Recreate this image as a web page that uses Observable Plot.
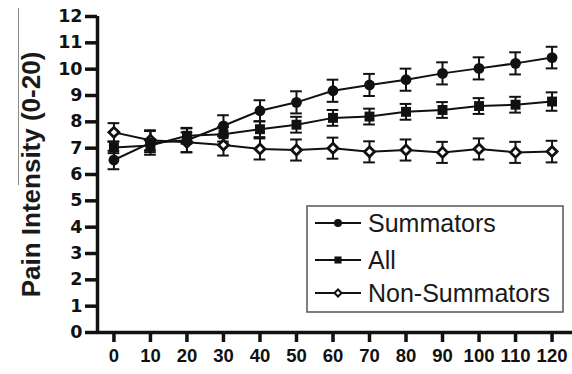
<!DOCTYPE html>
<html>
<head>
<meta charset="utf-8">
<script src="https://cdn.jsdelivr.net/npm/d3@7"></script>
<script src="https://cdn.jsdelivr.net/npm/@observablehq/plot@0.6"></script>
<style>
  html, body { margin: 0; padding: 0; background: #fff; }
  #wrap { position: relative; width: 572px; height: 374px; overflow: hidden; }
  #edge { position: absolute; left: 18px; top: 8px; width: 0; height: 177px; border-left: 1.5px solid #8a8a8a; }
  #legend { position: absolute; left: 306px; top: 205px; }
</style>
</head>
<body>
<div id="wrap"><div id="edge"></div><div id="legend"></div></div>
<script>
// Data
const minutes = [0, 10, 20, 30, 40, 50, 60, 70, 80, 90, 100, 110, 120];
const summators    = [6.55, 7.20, 7.30, 7.85, 8.42, 8.74, 9.18, 9.40, 9.60, 9.84, 10.03, 10.22, 10.44];
const summatorsErr = [0.35, 0.45, 0.45, 0.40, 0.40, 0.42, 0.42, 0.42, 0.42, 0.42, 0.42, 0.42, 0.41];
const allPts       = [7.03, 7.10, 7.47, 7.53, 7.72, 7.89, 8.15, 8.20, 8.38, 8.45, 8.60, 8.65, 8.77];
const allErr       = [0.22, 0.25, 0.30, 0.28, 0.30, 0.30, 0.30, 0.30, 0.30, 0.30, 0.30, 0.30, 0.35];
const nonSumm      = [7.60, 7.30, 7.22, 7.12, 6.97, 6.93, 7.00, 6.86, 6.93, 6.84, 6.97, 6.84, 6.87];
const nonSummErr   = [0.35, 0.38, 0.38, 0.40, 0.40, 0.40, 0.40, 0.40, 0.40, 0.40, 0.40, 0.40, 0.41];
const yTicks = [0, 1, 2, 3, 4, 5, 6, 7, 8, 9, 10, 11, 12];
const seriesNames = ["Summators", "All", "Non-Summators"];
const yLabel = "Pain Intensity (0-20)";

const xMin = -4.5, xMax = 125.6;
const capHalf = 1.6;

function rows(vals, errs, name) {
  return minutes.map((m, i) => ({m, v: vals[i], lo: vals[i] - errs[i], hi: vals[i] + errs[i], name}));
}
const S = rows(summators, summatorsErr, seriesNames[0]);
const A = rows(allPts, allErr, seriesNames[1]);
const N = rows(nonSumm, nonSummErr, seriesNames[2]);
const allRows = [...S, ...A, ...N];

const font = "'Liberation Sans', Arial, Helvetica, sans-serif";
const wideFont = "'DejaVu Sans', 'Liberation Sans', Arial, sans-serif";

const chart = Plot.plot({
  width: 572, height: 374,
  marginLeft: 97, marginRight: 0, marginTop: 16, marginBottom: 42,
  style: {fontFamily: font, color: "#111", background: "#fff"},
  x: {domain: [xMin, xMax]},
  y: {domain: [0, 12]},
  marks: [
    Plot.axisY({ticks: yTicks, tickSize: 12, tickPadding: 3, strokeWidth: 3.5, fontSize: 17.5, fontWeight: "bold", fontFamily: wideFont, label: null, fill: "#111"}),
    Plot.axisX({ticks: minutes, tickSize: 10, tickPadding: 6, strokeWidth: 3.5, fontSize: 18.5, fontWeight: "bold", label: null, fill: "#111"}),
    Plot.ruleX([xMin], {y1: 0, y2: 12, strokeWidth: 3.5, stroke: "#111"}),
    Plot.ruleY([0], {x1: xMin, x2: xMax, strokeWidth: 3.5, stroke: "#111"}),
    Plot.text([yLabel], {frameAnchor: "left", textAnchor: "middle", rotate: -90, dx: -66, fontSize: 26, fontWeight: "bold", fill: "#1a1a1a", fontFamily: font}),
    // lines
    Plot.line(S, {x: "m", y: "v", stroke: "#111", strokeWidth: 2}),
    Plot.line(A, {x: "m", y: "v", stroke: "#111", strokeWidth: 2}),
    Plot.line(N, {x: "m", y: "v", stroke: "#111", strokeWidth: 2}),
    // error bars
    Plot.ruleX(allRows, {x: "m", y1: "lo", y2: "hi", stroke: "#111", strokeWidth: 2}),
    Plot.ruleY(allRows, {y: "hi", x1: d => d.m - capHalf, x2: d => d.m + capHalf, stroke: "#111", strokeWidth: 2}),
    Plot.ruleY(allRows, {y: "lo", x1: d => d.m - capHalf, x2: d => d.m + capHalf, stroke: "#111", strokeWidth: 2}),
    // markers
    Plot.dot(N, {x: "m", y: "v", symbol: "diamond2", r: 4.5, fill: "#fff", stroke: "#111", strokeWidth: 2.8}),
    Plot.dot(A, {x: "m", y: "v", symbol: "square", r: 5.6, fill: "#111", stroke: "none"}),
    Plot.dot(S, {x: "m", y: "v", symbol: "circle", r: 5.4, fill: "#111", stroke: "none"})
  ]
});
document.getElementById("wrap").prepend(chart);

// Legend (inside the plot area, as in the reference)
const lg = d3.select("#legend").append("svg").attr("width", 260).attr("height", 110);
lg.append("rect").attr("x", 1).attr("y", 1).attr("width", 256).attr("height", 106)
  .attr("fill", "#fff").attr("stroke", "#555").attr("stroke-width", 1.5);
const rowY = [18, 55, 88];
seriesNames.forEach((name, i) => {
  const g = lg.append("g").attr("transform", `translate(0,${rowY[i]})`);
  g.append("line").attr("x1", 9).attr("x2", 55).attr("y1", 0).attr("y2", 0).attr("stroke", "#111").attr("stroke-width", 2);
  const sym = [d3.symbolCircle, d3.symbolSquare, d3.symbolDiamond2][i];
  const size = [50, 50, 32][i];
  g.append("path").attr("transform", "translate(32,0)").attr("d", d3.symbol(sym, size)())
    .attr("fill", i === 2 ? "#fff" : "#111").attr("stroke", i === 2 ? "#111" : "none").attr("stroke-width", 2);
  g.append("text").attr("x", 62).attr("y", 0).attr("dy", "0.35em").attr("font-size", 25)
    .attr("font-family", font).attr("fill", "#1a1a1a").text(name);
});
</script>
</body>
</html>
